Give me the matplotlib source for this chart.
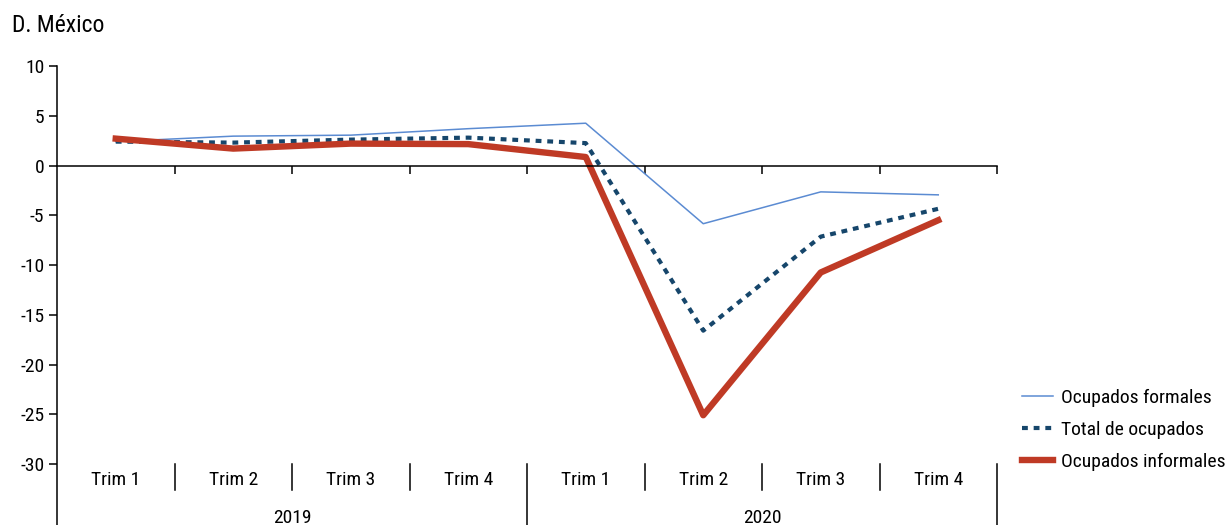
import matplotlib
matplotlib.use("Agg")
import matplotlib.pyplot as plt
import matplotlib.transforms as mtransforms
import numpy as np

# ── data ──────────────────────────────────────────────────────────────────────

QUARTERS = ["Trim 1", "Trim 2", "Trim 3", "Trim 4",
            "Trim 1", "Trim 2", "Trim 3", "Trim 4"]
YEARS = ["2019", "2020"]

formales   = [2.4, 2.95, 3.05, 3.7, 4.25, -5.85, -2.65, -2.95]
total      = [2.4, 2.3, 2.6, 2.8, 2.25, -16.6, -7.15, -4.35]
informales = [2.7, 1.7, 2.2, 2.15, 0.85, -25.1, -10.75, -5.5]

YTICKS = [10, 5, 0, -5, -10, -15, -20, -25, -30]

# ── style ─────────────────────────────────────────────────────────────────────

plt.rcParams["font.family"] = ["Roboto Condensed", "Barlow Semi Condensed",
                               "DejaVu Sans"]
C_FORM = "#5b8bd2"
C_TOT = "#16466b"
C_INF = "#bf3a25"
FS = 14

fig = plt.figure(figsize=(12.27, 5.25), dpi=100)
W, H = 1227, 525
x0, x1, ytop, ybot = 57, 997, 66, 464
ax = fig.add_axes([x0 / W, 1 - ybot / H, (x1 - x0) / W, (ybot - ytop) / H])

x = np.arange(len(QUARTERS))
ax.plot(x, formales, color=C_FORM, lw=1.1, label="Ocupados formales")
ax.plot(x, total, color=C_TOT, lw=3.0, ls=(0, (1.4, 1.4)),
        label="Total de ocupados")
ax.plot(x, informales, color=C_INF, lw=4.6, label="Ocupados informales")

ax.set_xlim(-0.5, len(QUARTERS) - 0.5)
ax.set_ylim(-30, 10)
ax.set_yticks(YTICKS)
ax.set_yticklabels([str(v) for v in YTICKS], fontsize=FS)

# spines: x axis sits at zero, left axis drawn by hand so it runs to the bottom
for s in ["top", "right", "left"]:
    ax.spines[s].set_visible(False)
ax.spines["bottom"].set_position(("data", 0))
ax.spines["bottom"].set_linewidth(1.1)
ax.set_xticks(np.arange(0.5, len(QUARTERS), 1.0))
ax.set_xticklabels([])
ax.tick_params(axis="x", direction="out", length=6, width=1.1)
ax.tick_params(axis="y", direction="out", length=6, width=1.1, pad=3)

bottom_ext = -(H - ybot) / (ybot - ytop)
ax.plot([0, 0], [1, bottom_ext], transform=ax.transAxes, color="black",
        lw=1.1, clip_on=False)

# multilevel category axis under y = -30
trans = mtransforms.blended_transform_factory(ax.transData, ax.transAxes)
for i, q in enumerate(QUARTERS):
    ax.text(i, -0.041, q, transform=trans, ha="center", va="center",
            fontsize=FS)
n_per_year = len(QUARTERS) // len(YEARS)
for j, yr in enumerate(YEARS):
    xc = j * n_per_year + (n_per_year - 1) / 2
    ax.text(xc, -0.135, yr, transform=trans, ha="center", va="center",
            fontsize=FS)
for b in np.arange(0.5, len(QUARTERS), 1.0):
    year_edge = abs(((b + 0.5) % n_per_year)) < 1e-9
    y_end = bottom_ext if year_edge else -0.065
    ax.plot([b, b], [0, y_end], transform=trans, color="black", lw=1.1,
            clip_on=False)

fig.text(12 / W, 1 - 26 / H, "D. México", fontsize=17, va="center",
         ha="left")

fig.legend(loc="upper left", bbox_to_anchor=(1014 / W, 1 - 381 / H),
           frameon=False, fontsize=FS, handlelength=1.6, handletextpad=0.4,
           labelspacing=0.72, borderaxespad=0)

fig.savefig("out.png", dpi=100)
